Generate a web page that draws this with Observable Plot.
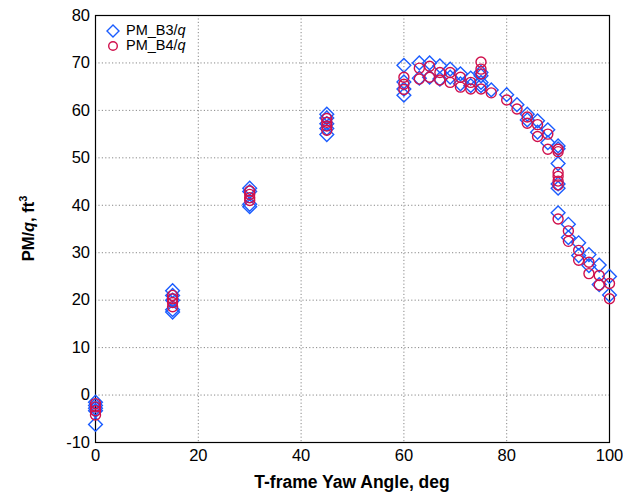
<!DOCTYPE html>
<html>
<head>
<meta charset="utf-8">
<script src="https://cdn.jsdelivr.net/npm/d3@7"></script>
<script src="https://cdn.jsdelivr.net/npm/@observablehq/plot@0.6"></script>
<style>
  html, body { margin: 0; padding: 0; background: #fff; }
  #chart { position: relative; width: 623px; height: 494px; font-family: "Liberation Sans", Arial, sans-serif; }
  #legend { position: absolute; left: 106px; top: 23px; font-size: 14.5px; line-height: 15px; color: #000; }
  #legend div { display: flex; align-items: center; height: 15px; }
  #legend svg { margin-right: 6px; }
</style>
</head>
<body>
<div id="chart"></div>
<script>
// Yaw angle (deg) and pitching moment over dynamic pressure (ft^3), balance B3
const b3Angle = [
  0, 0, 0, 0, 0,
  15, 15, 15, 15, 15,
  30, 30, 30, 30,
  45, 45, 45, 45, 45,
  60, 60, 60, 60,
  63, 63, 65, 65, 67, 67, 69, 69, 71, 71, 73, 73,
  75, 75, 75, 75, 77,
  80, 82, 84, 84, 86, 86, 88, 88,
  90, 90, 90, 90, 90, 90,
  92, 92, 94, 94, 96, 96, 98, 98, 100, 100
];
const b3Value = [
  -1.5, -2.2, -2.8, -3.3, -6.2,
  22.0, 21.0, 20.0, 18.0, 17.5,
  43.6, 42.9, 40.2, 39.7,
  59.2, 58.4, 57.2, 56.2, 54.9,
  69.5, 66.0, 64.5, 63.2,
  70.0, 66.8, 70.0, 67.0, 69.4, 66.6, 68.7, 67.0, 67.7, 65.6, 66.8, 65.2,
  68.0, 67.3, 65.9, 65.2, 64.3,
  63.3, 61.2, 59.2, 58.0, 57.8, 55.4, 55.9, 53.2,
  52.5, 51.9, 48.8, 44.5, 43.6, 38.4,
  36.0, 33.2, 32.1, 29.4, 29.6, 27.3, 27.4, 23.3, 25.0, 21.1
];

// Same quantity, balance B4
const b4Angle = [
  0, 0, 0, 0,
  15, 15, 15, 15,
  30, 30, 30, 30,
  45, 45, 45, 45,
  60, 60, 60,
  63, 63, 65, 65, 67, 67, 69, 69, 71, 71, 73, 73,
  75, 75, 75, 75, 77,
  80, 82, 84, 84, 86, 86, 88, 88,
  90, 90, 90, 90, 90, 90, 90,
  92, 92, 94, 94, 96, 96, 98, 98, 100, 100
];
const b4Value = [
  -1.8, -2.5, -3.3, -4.2,
  21.0, 20.3, 19.5, 18.6,
  43.0, 42.3, 41.6, 41.0,
  58.3, 57.5, 56.7, 55.8,
  67.0, 65.5, 64.4,
  68.9, 66.6, 69.3, 67.0, 68.0, 66.4, 68.0, 65.9, 67.0, 64.9, 65.9, 64.5,
  70.2, 68.7, 67.7, 64.5, 63.7,
  62.2, 60.3, 58.6, 57.3, 57.0, 54.5, 55.0, 51.8,
  51.8, 51.3, 46.9, 46.1, 45.1, 44.3, 37.1,
  34.6, 32.4, 30.5, 28.4, 28.0, 25.6, 25.2, 23.2, 23.5, 20.3
];

const xTicks = [0, 20, 40, 60, 80, 100];
const yTicks = [-10, 0, 10, 20, 30, 40, 50, 60, 70, 80];

const blue = "#1a5cff";
const red = "#d0104c";

const b3 = b3Angle.map((a, i) => ({angle: a, value: b3Value[i]}));
const b4 = b4Angle.map((a, i) => ({angle: a, value: b4Value[i]}));

const W = 623, H = 494;
const M = {top: 15, right: 14, bottom: 52, left: 95};

// Plain hyphen for negative tick values
const plain = d => String(d);

const plot = Plot.plot({
  width: W,
  height: H,
  marginTop: M.top,
  marginRight: M.right,
  marginBottom: M.bottom,
  marginLeft: M.left,
  style: {fontFamily: "Liberation Sans, Arial, sans-serif", fontSize: "16.5px", background: "#fff", color: "#000"},
  x: {domain: [0, 100], ticks: xTicks, label: null},
  y: {domain: [-10, 80], ticks: yTicks, label: null},
  marks: [
    Plot.gridX(xTicks, {stroke: "#888", strokeOpacity: 1, strokeDasharray: "1.2,2.2", strokeWidth: 1}),
    Plot.gridY(yTicks, {stroke: "#888", strokeOpacity: 1, strokeDasharray: "1.2,2.2", strokeWidth: 1}),
    Plot.axisX({ticks: xTicks, tickSize: 0, tickPadding: 7, fontSize: 16.5, label: null, tickFormat: plain}),
    Plot.axisY({ticks: yTicks, tickSize: 0, tickPadding: 5.5, fontSize: 16.5, label: null, tickFormat: plain}),
    Plot.frame({stroke: "#000", strokeWidth: 1.2}),
    Plot.dot(b3, {x: "angle", y: "value", symbol: "diamond2", r: 6.2, stroke: blue, strokeWidth: 1.4, fill: "none"}),
    Plot.dot(b4, {x: "angle", y: "value", symbol: "circle", r: 5, stroke: red, strokeWidth: 1.4, fill: "none"})
  ]
});

const chart = document.getElementById("chart");
chart.appendChild(plot);

// Axis titles with italic and superscript parts
const svg = d3.select(plot);
const plotW = W - M.left - M.right;
const plotH = H - M.top - M.bottom;

svg.append("text")
  .attr("x", M.left + plotW / 2)
  .attr("y", H - 6)
  .attr("text-anchor", "middle")
  .style("font-size", "17.5px")
  .style("font-weight", "bold")
  .text("T-frame Yaw Angle, deg");

const yt = svg.append("text")
  .attr("transform", `translate(34,${M.top + plotH / 2}) rotate(-90)`)
  .attr("text-anchor", "middle")
  .style("font-size", "16.5px")
  .style("font-weight", "bold");
yt.append("tspan").text("PM/");
yt.append("tspan").style("font-style", "italic").text("q");
yt.append("tspan").text(", ft");
yt.append("tspan").attr("dy", "-7").style("font-size", "11px").text("3");

// Legend inside the plot area
const legend = document.createElement("div");
legend.id = "legend";
legend.innerHTML = `
  <div><svg width="14" height="14" viewBox="-7 -7 14 14"><path d="M0,-6L6,0L0,6L-6,0Z" fill="none" stroke="${blue}" stroke-width="1.4"/></svg><span>PM_B3/<i>q</i></span></div>
  <div><svg width="14" height="14" viewBox="-7 -7 14 14"><circle r="4.3" fill="none" stroke="${red}" stroke-width="1.4"/></svg><span>PM_B4/<i>q</i></span></div>`;
chart.appendChild(legend);
</script>
</body>
</html>
